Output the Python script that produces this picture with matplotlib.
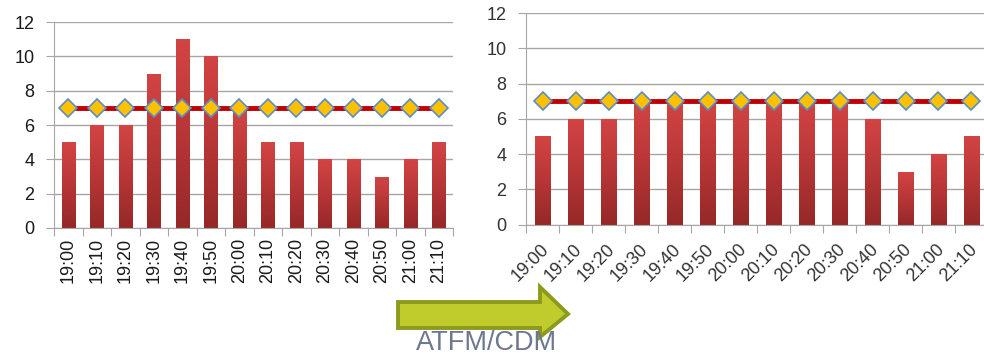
import numpy as np
import matplotlib.pyplot as plt
import matplotlib.transforms as mtransforms
from matplotlib.colors import LinearSegmentedColormap
from matplotlib.patches import Polygon

plt.rcParams['font.family'] = ['Liberation Sans', 'DejaVu Sans']

times = ['19:00', '19:10', '19:20', '19:30', '19:40', '19:50', '20:00',
         '20:10', '20:20', '20:30', '20:40', '20:50', '21:00', '21:10']
demand_before = [5, 6, 6, 9, 11, 10, 7, 5, 5, 4, 4, 3, 4, 5]
demand_after = [5, 6, 6, 7, 7, 7, 7, 7, 7, 7, 6, 3, 4, 5]
capacity = [7] * 14

W, H = 984, 355
bar_cmap = LinearSegmentedColormap.from_list('bar', ['#d34444', '#b83636', '#962828'])


def px(x0, y0, x1, y1):
    # pixel box (top-left origin) -> figure fraction rect
    return [x0 / W, 1 - y1 / H, (x1 - x0) / W, (y1 - y0) / H]


def draw_panel(ax, values, txt_color, fsize, rot):
    x = np.arange(len(times))
    bars = ax.bar(x, values, width=0.47, color='#b83636', zorder=2)
    grad = np.linspace(0, 1, 100).reshape(-1, 1)
    for b in bars:
        im = ax.imshow(grad, cmap=bar_cmap, aspect='auto', zorder=2.5,
                       extent=[b.get_x(), b.get_x() + b.get_width(), 0, b.get_height()])
        im.set_clip_path(b)
    ax.plot(x, capacity, color='#c00000', lw=3.5, zorder=3,
            marker='D', ms=9, mfc='#ffc000', mec='#5b8ec9', mew=1.2)
    ax.set_xlim(-0.5, len(times) - 0.5)
    ax.set_ylim(0, 12)
    ax.set_yticks(range(0, 13, 2))
    ax.yaxis.grid(True, color='#a6a6a6', lw=1, zorder=0)
    ax.set_axisbelow(True)
    for s in ['top', 'right']:
        ax.spines[s].set_visible(False)
    for s in ['left', 'bottom']:
        ax.spines[s].set_color('#a6a6a6')
    ax.set_xticks(np.arange(-0.5, len(times)), minor=False)
    ax.set_xticklabels([])
    ax.set_xticks(x, minor=True)
    ax.tick_params(axis='x', which='major', length=6, color='#a6a6a6')
    ax.tick_params(axis='x', which='minor', length=0, pad=7)
    ax.tick_params(axis='y', length=6, color='#a6a6a6', labelsize=fsize,
                   labelcolor=txt_color, pad=8)
    if rot == 90:
        ax.set_xticklabels(times, minor=True, rotation=90, fontsize=fsize,
                           color=txt_color, va='top', ha='center')
    else:
        labs = ax.set_xticklabels(times, minor=True, rotation=45, fontsize=fsize,
                                  color=txt_color, ha='right', va='center',
                                  rotation_mode='anchor')
        shift = mtransforms.ScaledTranslation(2.5 / 72, -9 / 72, fig.dpi_scale_trans)
        for t in labs:
            t.set_transform(t.get_transform() + shift)


fig = plt.figure(figsize=(W / 100, H / 100), dpi=100)
ax1 = fig.add_axes(px(54, 22, 453, 228))
draw_panel(ax1, demand_before, '#1a1a1a', 13, 90)
ax2 = fig.add_axes(px(526, 13, 988, 224.5))
draw_panel(ax2, demand_after, '#333333', 13, 45)

# arrow between the panels
pts = [(398, 302), (540, 302), (540, 287), (568, 314), (540, 337), (540, 328), (398, 328)]
arrow = Polygon([(a / W, 1 - b / H) for a, b in pts], closed=True,
                transform=fig.transFigure, facecolor='#bfcc2c', edgecolor='#8c9a1e', lw=2.8)
fig.add_artist(arrow)
fig.text(487 / W, 1 - 343 / H, 'ATFM/CDM', ha='center', va='center',
         fontsize=19.5, color='#6d7890')

fig.savefig('out.png', dpi=100)
